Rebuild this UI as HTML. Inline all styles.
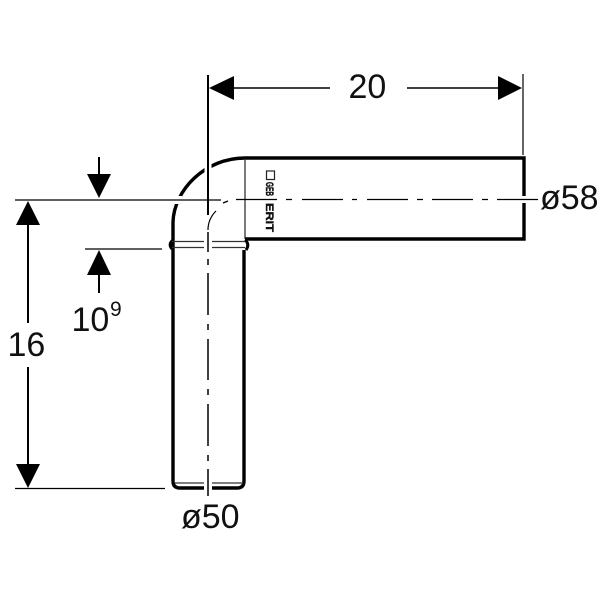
<!DOCTYPE html>
<html><head><meta charset="utf-8"><style>html,body{margin:0;padding:0;background:#fff}svg{display:block}text{font-family:"Liberation Sans",sans-serif;fill:#111}</style></head><body>
<svg width="600" height="600" viewBox="0 0 600 600" xmlns="http://www.w3.org/2000/svg">
<!-- pipe outline -->
<g fill="none" stroke="#000" stroke-width="3.4">
<path d="M173 241V481Q173 488 180 488H237Q244 488 244 481V250"/>
<path d="M173 241V222C174 190 205 158 245 158H524V239H245"/>
<path d="M173 240Q168 244 172 249M245 240Q250 244 246 250" stroke-width="3"/>
</g>
<g fill="none" stroke="#333" stroke-width="1.2">
<path d="M172 241.500H245M172 247.500H245M175 483H243"/>
<path d="M245 158V239" stroke="#222"/>
</g>
<!-- white halos for crossings -->
<g fill="#fff">
<rect x="204" y="238" width="8" height="14"/>
<rect x="204" y="480" width="8" height="10"/>
<rect x="204.500" y="162" width="7" height="12"/>
<rect x="170" y="196" width="12" height="8"/>
<rect x="520" y="196" width="8" height="7"/>
</g>
<!-- center lines -->
<g stroke="#000" fill="none">
<path d="M208 75V215" stroke-width="2"/>
<path d="M208 230C208 222 211 216 216 211" stroke-width="1.200"/>
<path d="M208 232V252" stroke-width="1.500"/>
<path d="M208 259V265M208 273V315M208 324V330M208 339V380M208 389V395M208 404V446M208 455V461M208 469V496" stroke-width="1.500"/>
<path d="M15 200H221" stroke-width="1.200"/>
<path d="M223 203L228 201" stroke-width="1.300"/>
<path d="M236 199.500H277M286 199.500H292M302 199.500H343M352 199.500H357M367 199.500H408M417 199.500H423M432 199.500H473M482 199.500H488M497 199.500H538" stroke-width="1.300"/>
<path d="M85 249H162M15 488.500H165" stroke-width="1.200"/>
<path d="M523 74V155" stroke-width="1.200"/>
<path d="M232 88H330M407 88H500" stroke-width="1.500"/>
<path d="M99 157V175M99 275V293" stroke-width="2"/>
<path d="M28 222V323M28 367V466" stroke-width="2"/>
</g>
<!-- arrowheads -->
<g fill="#000">
<polygon points="209,88 234,76 234,100"/>
<polygon points="522,88 498,76 498,100"/>
<polygon points="99,198 87,174 111,174"/>
<polygon points="99,250 87,275 111,275"/>
<polygon points="28,201 16,225 40,225"/>
<polygon points="28,488 16,464 40,464"/>
</g>
<!-- stamp -->
<rect x="266.500" y="171" width="8" height="8.500" fill="none" stroke="#222" stroke-width="1.200"/>
<text transform="translate(266,182) rotate(90)" font-size="11" font-weight="700" textLength="14" lengthAdjust="spacingAndGlyphs" stroke="#111" stroke-width=".4">GEB</text>
<text transform="translate(266,203) rotate(90)" font-size="11" font-weight="700" textLength="29" lengthAdjust="spacingAndGlyphs" stroke="#111" stroke-width=".4">ERIT</text>
<!-- labels -->
<text x="348.500" y="98" font-size="34">20</text>
<text x="540" y="209" font-size="34">ø58</text>
<text x="7.500" y="356" font-size="34">16</text>
<text x="71.500" y="331" font-size="34">10</text>
<text x="110" y="316" font-size="21">9</text>
<text x="181" y="528" font-size="34">ø50</text>
</svg>
</body></html>
